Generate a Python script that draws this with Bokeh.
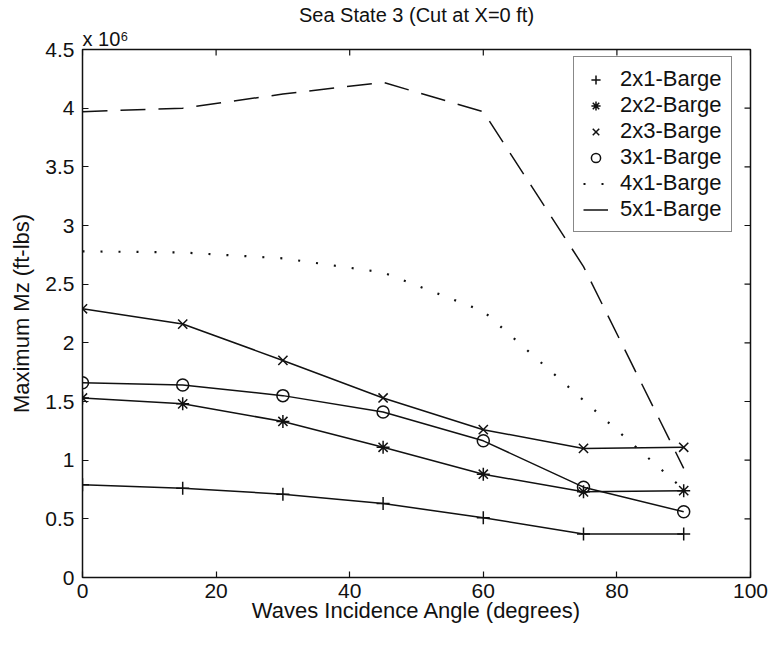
import math

from bokeh.plotting import figure
from bokeh.models import Legend, LegendItem, Title, FixedTicker, Range1d
from bokeh.embed import file_html
from bokeh.resources import INLINE

# Wave incidence angles (degrees)
angles = [0, 15, 30, 45, 60, 75, 90]

# Maximum Mz at the X=0 ft cut, in units of 10^6 ft-lbs
mz_2x1 = [0.79, 0.76, 0.71, 0.63, 0.51, 0.37, 0.37]
mz_2x2 = [1.53, 1.48, 1.33, 1.11, 0.88, 0.73, 0.74]
mz_2x3 = [2.29, 2.16, 1.85, 1.53, 1.26, 1.10, 1.11]
mz_3x1 = [1.66, 1.64, 1.55, 1.41, 1.165, 0.77, 0.56]
mz_4x1 = [2.78, 2.77, 2.72, 2.60, 2.27, 1.51, 0.75]
mz_5x1 = [3.97, 4.00, 4.12, 4.22, 3.97, 2.65, 0.93]

series_names = ["2x1-Barge", "2x2-Barge", "2x3-Barge", "3x1-Barge", "4x1-Barge", "5x1-Barge"]

x_ticks = [0, 20, 40, 60, 80, 100]
y_ticks = [0, 0.5, 1, 1.5, 2, 2.5, 3, 3.5, 4, 4.5]
y_tick_labels = ["0", "0.5", "1", "1.5", "2", "2.5", "3", "3.5", "4", "4.5"]

X_MIN, X_MAX = 0, 100
Y_MIN, Y_MAX = 0, 4.5

FONT = "Liberation Sans"
INK = "#111111"

p = figure(width=771, height=648,
           x_range=Range1d(X_MIN, X_MAX), y_range=Range1d(Y_MIN, Y_MAX),
           output_backend="svg", toolbar_location=None,
           title="Sea State 3 (Cut at X=0 ft)",
           min_border_left=82, min_border_right=21,
           min_border_top=49, min_border_bottom=71)
p.background_fill_color = "white"
p.border_fill_color = "white"
p.outline_line_color = INK
p.outline_line_width = 1.5
p.grid.visible = False

p.title.align = "center"
p.title.text_font = FONT
p.title.text_font_size = "20px"
p.title.text_font_style = "normal"
p.title.text_color = INK
p.title.standoff = 0

# scale note for the y values, sitting just above the top-left corner
scale_note = Title(text="x 10\u2076", align="left", offset=0, standoff=0,
                   text_font=FONT, text_font_size="20px",
                   text_font_style="normal", text_color=INK)
p.add_layout(scale_note, "above")


def style_axis(ax):
    ax.axis_line_color = None
    ax.major_tick_in = 6
    ax.major_tick_out = 0
    ax.major_tick_line_color = INK
    ax.major_tick_line_width = 1.2
    ax.minor_tick_line_color = None
    ax.major_label_text_font = FONT
    ax.major_label_text_font_size = "21px"
    ax.major_label_text_color = INK
    ax.axis_label_text_font = FONT
    ax.axis_label_text_font_size = "22px"
    ax.axis_label_text_font_style = "normal"
    ax.axis_label_text_color = INK


xa = p.xaxis[0]
xa.ticker = FixedTicker(ticks=x_ticks)
xa.axis_label = "Waves Incidence Angle (degrees)"
style_axis(xa)
xa.major_label_standoff = 6
xa.axis_label_standoff = -3

ya = p.yaxis[0]
ya.ticker = FixedTicker(ticks=y_ticks)
ya.major_label_overrides = {t: s for t, s in zip(y_ticks, y_tick_labels)}
ya.axis_label = "Maximum Mz (ft-lbs)"
style_axis(ya)
ya.major_label_standoff = 8
ya.axis_label_standoff = 8

# tick marks on the top and right edges (half of each dash is clipped by the frame)
p.scatter(x_ticks, [Y_MAX] * len(x_ticks), marker="dash", angle=math.pi / 2,
          size=12, line_color=INK, line_width=1.2)
p.scatter([X_MAX] * len(y_ticks), y_ticks, marker="dash",
          size=12, line_color=INK, line_width=1.2)

LW = 1.5
MS = 13

# solid connecting lines for the marker series
for ys in (mz_2x1, mz_2x2, mz_2x3, mz_3x1):
    p.line(angles, ys, line_color=INK, line_width=LW)

r1 = p.scatter(angles, mz_2x1, marker="cross", size=MS, line_color=INK, line_width=LW)
r2 = p.scatter(angles, mz_2x2, marker="asterisk", size=MS, line_color=INK, line_width=LW)
r3 = p.scatter(angles, mz_2x3, marker="x", size=MS, line_color=INK, line_width=LW)
r4 = p.scatter(angles, mz_3x1, marker="circle", size=MS - 1, line_color=INK,
               line_width=LW, fill_color=None)
r5 = p.line(angles, mz_4x1, line_color=INK, line_width=2.2, line_dash="2 16")
r6 = p.line(angles, mz_5x1, line_color=INK, line_width=LW, line_dash="25 13")

legend = Legend(
    items=[LegendItem(label=n, renderers=[r]) for n, r in
           zip(series_names, [r1, r2, r3, r4, r5, r6])],
    location=(491, 345),
    padding=9, spacing=0, margin=0,
    glyph_width=25, glyph_height=23, label_height=23,
    label_standoff=12, label_width=90,
    label_text_font=FONT, label_text_font_size="22px", label_text_color=INK,
    border_line_color=INK, border_line_width=1.5,
    background_fill_color="white", background_fill_alpha=1.0,
)
p.add_layout(legend)

open("out.html", "w").write(file_html(p, INLINE))
